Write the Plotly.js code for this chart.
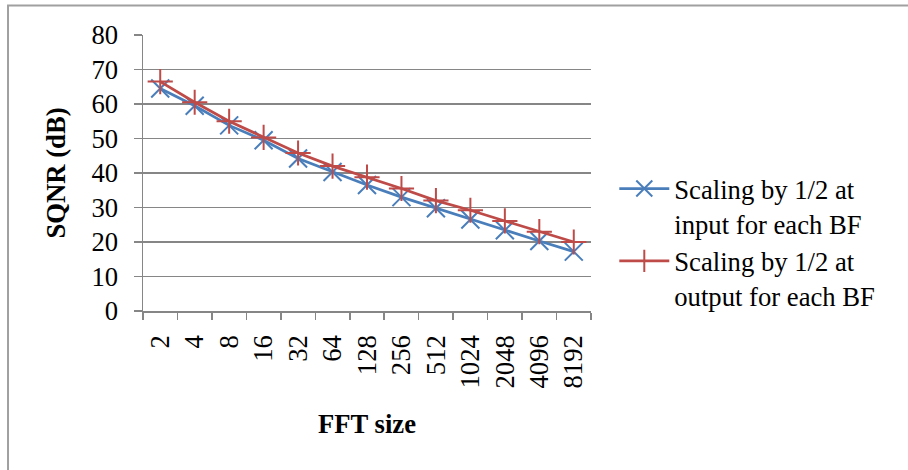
<!DOCTYPE html>
<html>
<head>
<meta charset="utf-8">
<script src="https://cdn.plot.ly/plotly-3.0.1.min.js"></script>
<style>
  html, body { margin: 0; padding: 0; background: #ffffff; }
  #chart { width: 908px; height: 470px; }
</style>
</head>
<body>
<div id="chart"></div>
<script>
// FFT sizes on the category axis
const fftSizes = ['2', '4', '8', '16', '32', '64', '128', '256', '512', '1024', '2048', '4096', '8192'];

// SQNR in dB for the two butterfly scaling schemes
const sqnrInputScaling  = [64.5, 59.5, 53.8, 49.5, 44.2, 40.3, 36.5, 33.0, 29.8, 26.5, 23.4, 20.3, 17.2];
const sqnrOutputScaling = [66.5, 60.5, 55.0, 50.3, 45.8, 42.0, 38.8, 35.5, 32.0, 29.2, 26.1, 23.0, 20.0];

const seriesNames = [
  'Scaling by 1/2 at<br>input for each BF',
  'Scaling by 1/2 at<br>output for each BF'
];

const yTicks = [0, 10, 20, 30, 40, 50, 60, 70, 80];

const serif = 'Liberation Serif, Times New Roman, serif';
const gridGray = '#868686';
const blue = '#4a7ebb';
const red = '#be4b48';

const traces = [
  {
    x: fftSizes,
    y: sqnrInputScaling,
    name: seriesNames[0],
    type: 'scatter',
    mode: 'lines+markers',
    line: { color: blue, width: 2.75 },
    marker: { symbol: 'x-thin', size: 18, line: { color: blue, width: 2 } }
  },
  {
    x: fftSizes,
    y: sqnrOutputScaling,
    name: seriesNames[1],
    type: 'scatter',
    mode: 'lines+markers',
    line: { color: red, width: 2.75 },
    marker: { symbol: 'cross-thin', size: 18, line: { color: red, width: 2 } }
  }
];

const layout = {
  width: 908,
  height: 470,
  margin: { l: 143, r: 317, t: 35, b: 159 },
  paper_bgcolor: '#ffffff',
  plot_bgcolor: '#ffffff',
  font: { family: serif, size: 26.67, color: '#000000' },
  showlegend: true,
  legend: {
    x: 1.052, xanchor: 'left',
    y: 0.53, yanchor: 'top',
    valign: 'top',
    itemwidth: 50,
    tracegroupgap: 0,
    bgcolor: 'rgba(0,0,0,0)',
    font: { family: serif, size: 26.67, color: '#000000' }
  },
  xaxis: {
    type: 'category',
    range: [-0.5, fftSizes.length - 0.5],
    tickvals: fftSizes,
    ticktext: fftSizes,
    tickson: 'boundaries',
    ticks: 'outside',
    ticklen: 7,
    tickwidth: 1.5,
    tickcolor: gridGray,
    tickangle: -90,
    ticklabelstandoff: 12,
    showgrid: false,
    showline: true,
    linecolor: gridGray,
    linewidth: 1.5,
    zeroline: false,
    fixedrange: true,
    tickfont: { family: serif, size: 26.67, color: '#000000' },
    title: {
      text: '<b>FFT size</b>',
      font: { family: serif, size: 26.67, color: '#000000' },
      standoff: 27
    }
  },
  yaxis: {
    range: [0, 80],
    tickvals: yTicks,
    ticks: 'outside',
    ticklen: 8,
    tickwidth: 1.5,
    tickcolor: gridGray,
    ticklabelstandoff: 10,
    showgrid: true,
    gridcolor: gridGray,
    gridwidth: 1.5,
    showline: true,
    linecolor: gridGray,
    linewidth: 1.5,
    zeroline: false,
    fixedrange: true,
    tickfont: { family: serif, size: 26.67, color: '#000000' },
    title: {
      text: '<b>SQNR (dB)</b>',
      font: { family: serif, size: 26.67, color: '#000000' },
      standoff: 18
    }
  },
  shapes: [
    {
      // chart-area frame (left and top edges; the rest runs off the page)
      type: 'rect',
      xref: 'paper', yref: 'paper',
      x0: -0.3013, x1: 2.0,
      y0: -1.0, y1: 1.1067,
      line: { color: '#a0a0a0', width: 2 },
      fillcolor: 'rgba(0,0,0,0)',
      layer: 'below'
    }
  ]
};

Plotly.newPlot('chart', traces, layout, { displayModeBar: false, staticPlot: true });
</script>
</body>
</html>
